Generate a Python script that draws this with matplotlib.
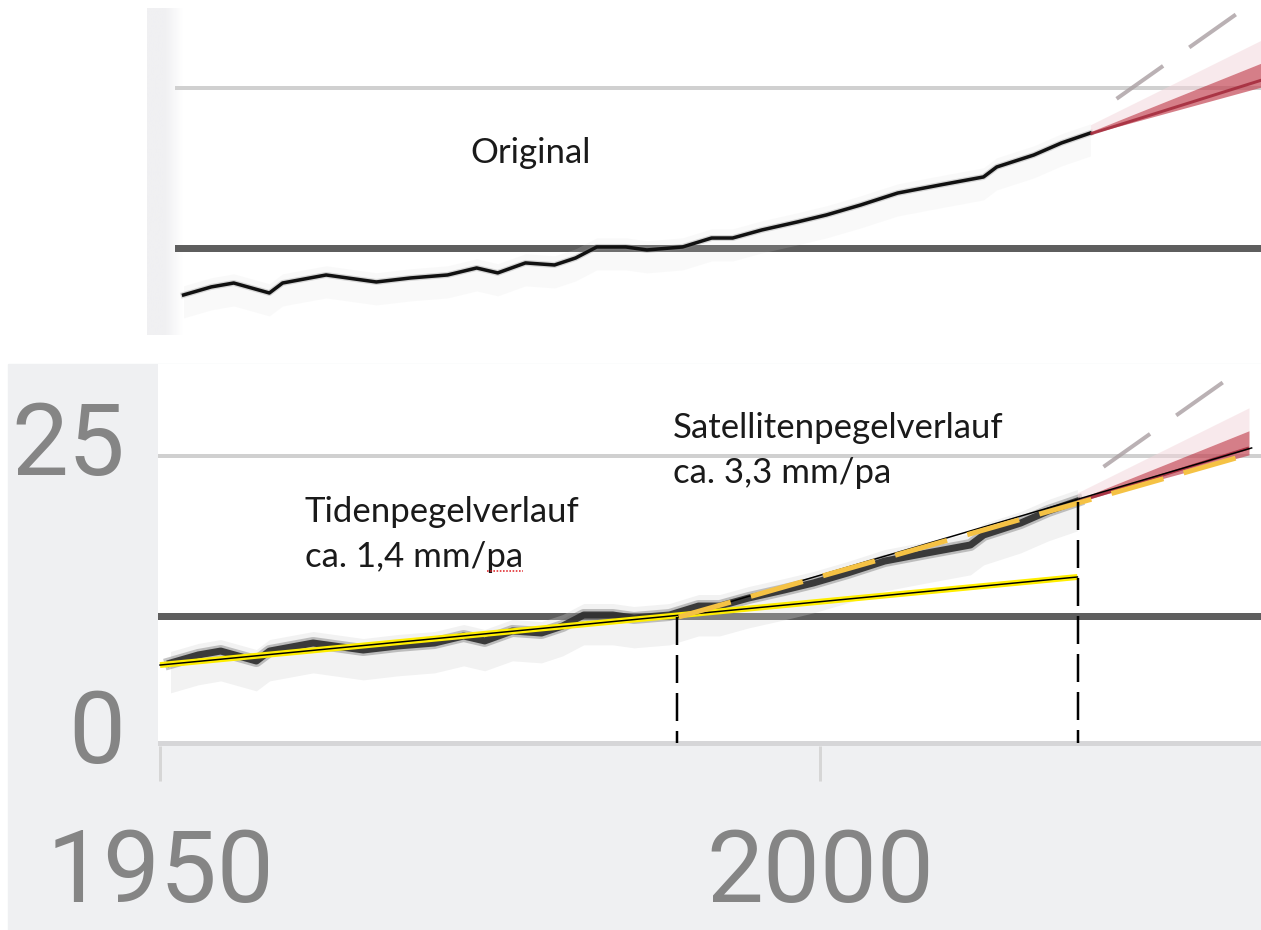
import matplotlib

matplotlib.use("Agg")
import matplotlib.pyplot as plt
import matplotlib.transforms as mtransforms
from matplotlib.colors import LinearSegmentedColormap
from matplotlib.lines import Line2D
from matplotlib.patches import Rectangle
import numpy as np

W, H = 1261, 930
PT = 0.72  # points per pixel at dpi 100

# mean sea level series (tide gauges, later satellite altimetry)
years = [1950.8, 1952.9, 1954.6, 1957.3, 1958.3, 1961.6, 1965.4, 1968.0,
         1970.8, 1973.0, 1974.6, 1976.7, 1978.9, 1980.5, 1982.1, 1984.3,
         1985.9, 1988.6, 1990.8, 1992.4, 1994.6, 1997.3, 1999.5, 2002.1,
         2004.9, 2008.1, 2011.4, 2012.4, 2015.2, 2017.3, 2019.5]
level = [6.97, 7.67, 8.01, 7.14, 8.01, 8.71, 8.10, 8.45,
         8.71, 9.32, 8.89, 9.76, 9.58, 10.19, 11.15, 11.15,
         10.89, 11.15, 11.93, 11.93, 12.63, 13.33, 13.94, 14.81,
         15.85, 16.55, 17.25, 18.12, 19.16, 20.21, 21.08]

grid_level = 25
ref_level = 11.06

# projection fan after the last observation
proj_years = [2019.5, 2032.5]
proj_low = [21.0, 25.1]
proj_mid = [21.0, 25.7]
proj_high = [21.2, 27.2]
proj_haze = [21.8, 29.2]
proj_dash_years = [2019.5, 2031.0]
proj_dash = [22.45, 31.8]

# hand-drawn trend lines
tide_years = [1950.0, 2019.5]
tide_level = [6.79, 14.46]
sat_years = [1989.3, 2032.7]
sat_level = [10.98, 25.7]
split_years = [1989.2, 2019.55]
split_level = [11.0, 21.0]

x_ticks = [1950, 2000]
x_labels = ["1950", "2000"]
y_ticks = [0, 25]
y_labels = ["0", "25"]

tide_text = ["Tidenpegelverlauf", "ca. 1,4 mm/pa"]
sat_text = ["Satellitenpegelverlauf", "ca. 3,3 mm/pa"]


def rect(x0, y0, x1, y1):
    return [x0 / W, 1 - y1 / H, (x1 - x0) / W, (y1 - y0) / H]


def draw_projection(ax):
    ax.fill_between(proj_years, proj_high, proj_haze, color="#f3d5da",
                    alpha=0.5, lw=0, zorder=3)
    ax.fill_between(proj_years, proj_low, proj_high, color="#c44856",
                    alpha=0.7, lw=0, zorder=3)
    ax.plot(proj_years, proj_mid, color="#a3293a", lw=3 * PT, alpha=0.85,
            solid_capstyle="butt", zorder=3)
    on, off, lw = 57 * PT, 32 * PT, 4 * PT
    ax.plot(proj_dash_years, proj_dash, color="#a99ea1", lw=lw, alpha=0.8,
            linestyle=(on / lw, (on / lw, off / lw)), zorder=3)


fig = plt.figure(figsize=(W / 100, H / 100), dpi=100)
fig.patch.set_facecolor("white")
fig.add_artist(Rectangle((8 / W, 0), (W - 8) / W, (H - 364) / H,
                         transform=fig.transFigure, color="#eff0f2",
                         zorder=-1))

# ---- upper panel: original chart ----
ax_t = fig.add_axes(rect(147, 8, 1261, 335))
ax_t.set_axis_off()

strip = LinearSegmentedColormap.from_list("strip", ["#f0f0f2", "#f0f0f2", "#ffffff"])
ax_t.imshow(np.linspace(0, 1, 64)[None, :], cmap=strip, aspect="auto",
            extent=[0, 36 / 1114, 0, 1], transform=ax_t.transAxes, zorder=0)
ax_t.set_xlim(1948.03, 2032.42)
ax_t.set_ylim(3.48, 31.97)

ax_t.axhline(grid_level, xmin=30 / 1114, color="#d0d0d0", lw=4 * PT, zorder=1)
ax_t.axhline(ref_level, xmin=31 / 1114, color="#5e5e5e", lw=7 * PT, zorder=1)
ax_t.fill_between(years, np.array(level) - 2.0, np.array(level) + 0.8,
                  color="#dadada", alpha=0.15, lw=0, zorder=1)
ax_t.plot(years, level, color="#888888", lw=6 * PT, alpha=0.3, zorder=2)
ax_t.plot(years, level, color="#111111", lw=3.5 * PT, zorder=2)
draw_projection(ax_t)
ax_t.text(1972.5, 18.47, "Original", family="Lato", fontsize=25,
          color="#1a1a1a", va="baseline")

# ---- lower panel: annotated chart ----
ax_b = fig.add_axes(rect(158, 364, 1261, 746))
ax_b.set_facecolor("white")
ax_b.set_xlim(1950 - 2 / 13.2, 1950 + 1101 / 13.2)
ax_b.set_ylim(-3 / 11.48, 379 / 11.48)
for spine in ax_b.spines.values():
    spine.set_visible(False)

ax_b.axhline(grid_level, color="#d0d0d0", lw=4 * PT, zorder=1)
ax_b.axhline(ref_level, color="#5e5e5e", lw=7 * PT, zorder=1)
ax_b.axhline(0, color="#d6d6d8", lw=5 * PT, zorder=1)

ax_b.fill_between(years, np.array(level) - 2.6, np.array(level) + 1.0,
                  color="#d4d4d4", alpha=0.3, lw=0, zorder=2)
ax_b.plot(years, level, color="#6f6f6f", lw=12 * PT, alpha=0.4, zorder=2)
ax_b.plot(years, level, color="#2c2c2c", lw=7 * PT, alpha=0.9, zorder=2)
draw_projection(ax_b)

# tide gauge trend: yellow with a thin black core
ax_b.plot(tide_years, tide_level, color="#ffee00", lw=6 * PT,
          solid_capstyle="butt", zorder=4)
ax_b.plot(tide_years, tide_level, color="black", lw=1.5 * PT, zorder=4)

# satellite trend: thin black line under golden dashes
ax_b.plot(sat_years, sat_level, color="black", lw=1.5 * PT, zorder=4)
lw = 5 * PT
ax_b.plot(sat_years[:1] + [2032.05], [sat_level[0], 25.0], color="#f5c244",
          lw=lw, dashes=(54 * PT / lw, 21 * PT / lw), dash_capstyle="butt",
          zorder=5)

# period markers down to the zero line
lw = 2.5 * PT
for yr, lv in zip(split_years, split_level):
    ax_b.plot([yr, yr], [lv, 0], color="black", lw=lw,
              dashes=(28 * PT / lw, 10 * PT / lw), dash_capstyle="butt",
              zorder=5)

txt_kw = dict(family="Lato", fontsize=25, color="#1a1a1a", va="baseline")
ax_b.text(1960.98, 19.25, tide_text[0], **txt_kw)
rate_txt = ax_b.text(1960.98, 15.33, tide_text[1], **txt_kw)
ax_b.text(1988.86, 26.57, sat_text[0], **txt_kw)
ax_b.text(1988.86, 22.65, sat_text[1], **txt_kw)

# axis ticks and labels
ax_b.set_xticks(x_ticks, x_labels)
ax_b.set_yticks(y_ticks, y_labels)
ax_b.tick_params(axis="x", direction="out", length=35 * PT, width=3 * PT,
                 color="#d6d6d6", pad=33, labelcolor="#858585")
ax_b.tick_params(axis="y", length=0, pad=33 * PT, labelcolor="#858585")
for lbl in ax_b.get_xticklabels() + ax_b.get_yticklabels():
    lbl.set_fontfamily("Roboto")
    lbl.set_fontsize(73)
shift = mtransforms.ScaledTranslation(0, 0.18, fig.dpi_scale_trans)
for lbl in ax_b.get_yticklabels():
    lbl.set_transform(lbl.get_transform() + shift)

# spell-check squiggle under "pa"
fig.canvas.draw()
renderer = fig.canvas.get_renderer()
full = rate_txt.get_window_extent(renderer)
probe = ax_b.text(1960.98, 15.33, tide_text[1][:-2], **txt_kw)
head = probe.get_window_extent(renderer)
probe.remove()
fig.add_artist(Line2D([head.x1 + 1, full.x1], [full.y0 + 2, full.y0 + 2],
                      transform=mtransforms.IdentityTransform(),
                      color="#e0262a", lw=1.6 * PT, linestyle=(0, (1, 1))))

fig.savefig("out.png", dpi=100)
